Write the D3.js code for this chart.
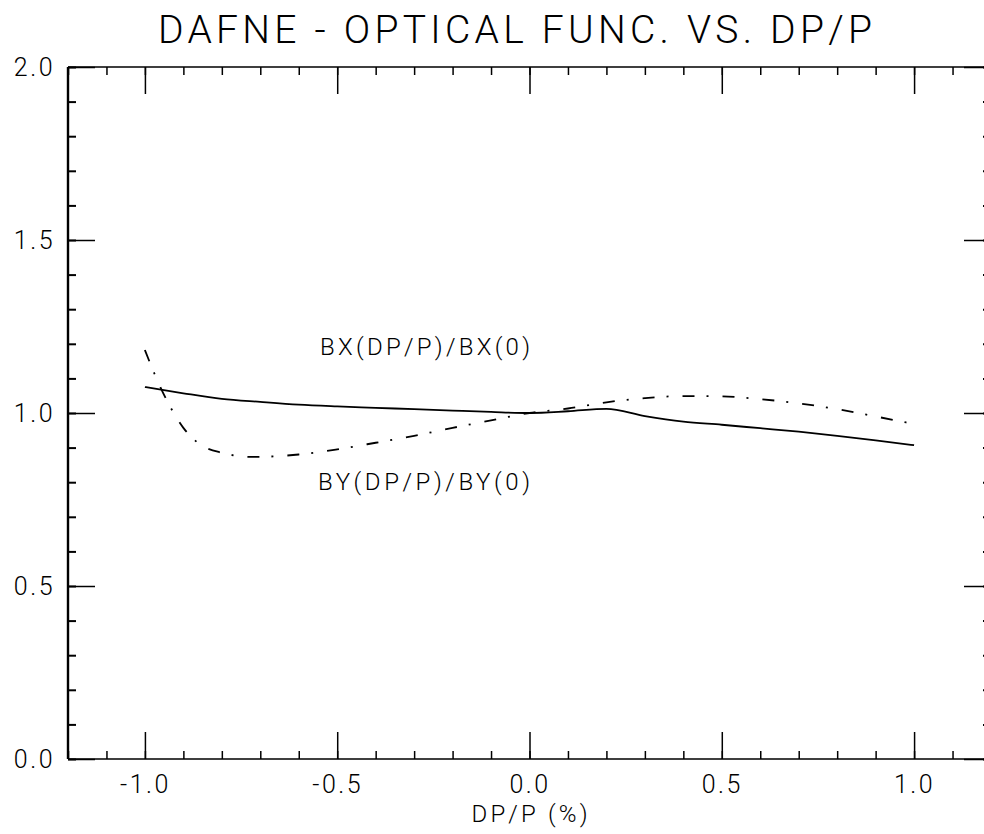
<!DOCTYPE html>
<html>
<head>
<meta charset="utf-8">
<script src="https://cdn.jsdelivr.net/npm/d3@7"></script>
<style>
  html, body { margin: 0; padding: 0; background: #fff; }
  svg { display: block; }
  text { font-family: "Roboto", "Liberation Sans", sans-serif; font-weight: 300; fill: #000; }
</style>
</head>
<body>
<svg id="chart" width="984" height="834"></svg>
<script>
// Horizontal beta ratio vs momentum deviation (%)
const bxDp   = [-1.0, -0.9, -0.8, -0.7, -0.6, -0.5, -0.4, -0.3, -0.2, -0.1, 0.0,
                 0.1, 0.2, 0.3, 0.4, 0.5, 0.6, 0.7, 0.8, 0.9, 1.0];
const bxVals = [1.075, 1.057, 1.041, 1.032, 1.024, 1.019, 1.015, 1.011, 1.007, 1.003, 1.000,
                1.005, 1.012, 0.991, 0.975, 0.966, 0.956, 0.946, 0.934, 0.921, 0.907];

// Vertical beta ratio vs momentum deviation (%)
const byDp   = [-1.0, -0.97, -0.94, -0.9, -0.86, -0.8, -0.72, -0.6, -0.5, -0.4, -0.3, -0.2, -0.1, 0.0,
                 0.1, 0.2, 0.3, 0.4, 0.5, 0.6, 0.7, 0.8, 0.9, 1.0];
const byVals = [1.182, 1.100, 1.030, 0.957, 0.912, 0.885, 0.873, 0.880, 0.895, 0.914, 0.934, 0.957, 0.979, 1.000,
                1.013, 1.031, 1.043, 1.049, 1.048, 1.040, 1.028, 1.011, 0.990, 0.968];

const xTickValues = [-1.0, -0.5, 0.0, 0.5, 1.0];
const xTickLabels = ["-1.0", "-0.5", "0.0", "0.5", "1.0"];
const yTickValues = [0.0, 0.5, 1.0, 1.5, 2.0];
const yTickLabels = ["0.0", "0.5", "1.0", "1.5", "2.0"];

const titleText = "DAFNE - OPTICAL FUNC. VS. DP/P";
const xTitle = "DP/P (%)";
const bxLabel = "BX(DP/P)/BX(0)";
const byLabel = "BY(DP/P)/BY(0)";

const svg = d3.select("#chart");
const plotLeft = 68, plotRight = 991, plotTop = 67, plotBottom = 759;

const x = d3.scaleLinear().domain([-1.2, 1.2]).range([plotLeft, plotRight]);
const y = d3.scaleLinear().domain([0, 2]).range([plotBottom, plotTop]);

const minorX = d3.range(-12, 13).map(i => i / 10);
const minorY = d3.range(0, 21).map(i => i / 10);

const MAJ = 27, MIN = 8;

function styleAxis(g, width) {
  g.select(".domain").remove();
  g.selectAll(".tick line").attr("stroke", "#000").attr("stroke-width", width);
}

// frame
svg.append("path")
  .attr("d", `M${plotLeft},${plotTop}H${plotRight}M${plotLeft},${plotBottom}H${plotRight}`)
  .attr("stroke", "#000").attr("stroke-width", 1.6).attr("fill", "none");
svg.append("path")
  .attr("d", `M${plotLeft},${plotTop}V${plotBottom}M${plotRight},${plotTop}V${plotBottom}`)
  .attr("stroke", "#000").attr("stroke-width", 2.4).attr("fill", "none");

// bottom axis: minor + major (labelled)
svg.append("g").attr("transform", `translate(0,${plotBottom})`)
  .call(d3.axisBottom(x).tickValues(minorX).tickSize(-MIN).tickFormat(""))
  .call(g => styleAxis(g, 1.5));
svg.append("g").attr("transform", `translate(0,${plotBottom})`)
  .call(d3.axisBottom(x).tickValues(xTickValues).tickSize(-MAJ).tickPadding(16)
    .tickFormat((d, i) => xTickLabels[i]))
  .call(g => styleAxis(g, 1.5))
  .call(g => g.selectAll("text").attr("font-size", 25).attr("letter-spacing", 2.5));

// top axis: ticks only
svg.append("g").attr("transform", `translate(0,${plotTop})`)
  .call(d3.axisTop(x).tickValues(minorX).tickSize(-MIN).tickFormat(""))
  .call(g => styleAxis(g, 1.5));
svg.append("g").attr("transform", `translate(0,${plotTop})`)
  .call(d3.axisTop(x).tickValues(xTickValues).tickSize(-MAJ).tickFormat(""))
  .call(g => styleAxis(g, 1.5));

// left axis
svg.append("g").attr("transform", `translate(${plotLeft},0)`)
  .call(d3.axisLeft(y).tickValues(minorY).tickSize(-MIN).tickFormat(""))
  .call(g => styleAxis(g, 2));
svg.append("g").attr("transform", `translate(${plotLeft},0)`)
  .call(d3.axisLeft(y).tickValues(yTickValues).tickSize(-MAJ).tickPadding(13)
    .tickFormat((d, i) => yTickLabels[i]))
  .call(g => styleAxis(g, 1.5))
  .call(g => g.selectAll("text").attr("font-size", 25).attr("letter-spacing", 2.5));

// right axis
svg.append("g").attr("transform", `translate(${plotRight},0)`)
  .call(d3.axisRight(y).tickValues(minorY).tickSize(-MIN).tickFormat(""))
  .call(g => styleAxis(g, 2));
svg.append("g").attr("transform", `translate(${plotRight},0)`)
  .call(d3.axisRight(y).tickValues(yTickValues).tickSize(-MAJ).tickFormat(""))
  .call(g => styleAxis(g, 1.5));

svg.selectAll(".tick text").attr("fill", "#000")
  .style("font-family", "\"Roboto\", \"Liberation Sans\", sans-serif")
  .style("font-weight", 300);

// curves
const lineGen = d3.line()
  .x(d => x(d[0])).y(d => y(d[1]))
  .curve(d3.curveMonotoneX);

svg.append("path")
  .datum(d3.zip(bxDp, bxVals))
  .attr("d", lineGen)
  .attr("fill", "none").attr("stroke", "#000").attr("stroke-width", 1.8);

svg.append("path")
  .datum(d3.zip(byDp, byVals))
  .attr("d", lineGen)
  .attr("fill", "none").attr("stroke", "#000").attr("stroke-width", 1.8)
  .attr("stroke-dasharray", "12,12,2,14");

// texts
svg.append("text")
  .attr("x", 515).attr("y", 43).attr("text-anchor", "middle")
  .attr("font-size", 39).attr("textLength", 714).attr("lengthAdjust", "spacing")
  .text(titleText);

svg.append("text")
  .attr("x", x(0)).attr("y", 822).attr("text-anchor", "middle")
  .attr("font-size", 24).attr("textLength", 116).attr("lengthAdjust", "spacing")
  .text(xTitle);

svg.append("text")
  .attr("x", 320).attr("y", 355)
  .attr("font-size", 24).attr("textLength", 210).attr("lengthAdjust", "spacing")
  .text(bxLabel);

svg.append("text")
  .attr("x", 318).attr("y", 490)
  .attr("font-size", 24).attr("textLength", 212).attr("lengthAdjust", "spacing")
  .text(byLabel);
</script>
</body>
</html>
